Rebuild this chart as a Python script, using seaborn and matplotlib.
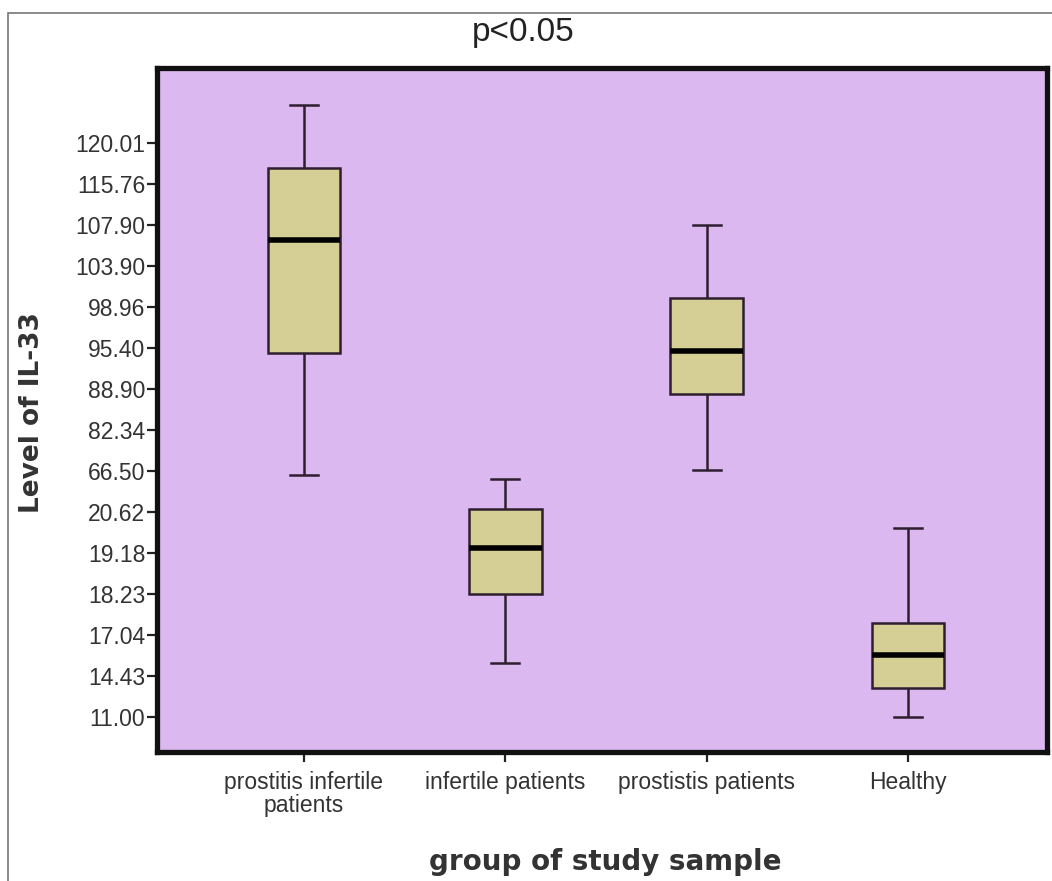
import numpy as np
import pandas as pd
import matplotlib
matplotlib.use("Agg")
import matplotlib.pyplot as plt
from matplotlib.patches import Rectangle
from matplotlib.ticker import NullLocator, FixedLocator, FixedFormatter
import seaborn as sns

# Groups on the x axis
GROUPS = [
    "prostitis infertile\npatients",
    "infertile patients",
    "prostistis patients",
    "Healthy",
]

# Box statistics (IL-33 level)
WHISKER_LOW = [62.37, 15.27, 66.98, 11.00]
Q1 = [94.69, 18.24, 88.18, 13.44]
MEDIAN = [106.42, 19.37, 95.01, 15.76]
Q3 = [117.42, 24.29, 100.00, 17.40]
WHISKER_HIGH = [123.96, 57.78, 107.90, 20.07]

# The original axis is ordinal: these labels sit at evenly spaced positions
Y_TICKS = [11.00, 14.43, 17.04, 18.23, 19.18, 20.62, 66.50, 82.34,
           88.90, 95.40, 98.96, 103.90, 107.90, 115.76, 120.01]

BG_COLOR = "#dcb8f1"
BOX_COLOR = "#d5cf96"
LINE_COLOR = "#2e1e30"
TEXT_COLOR = "#333333"

# Piecewise-linear scale through the tick values, extended at both ends
tick_arr = np.array(Y_TICKS)
pos_arr = np.arange(len(tick_arr), dtype=float)
lo_slope = tick_arr[1] - tick_arr[0]
hi_slope = tick_arr[-1] - tick_arr[-2]
scale_vals = np.concatenate([[tick_arr[0] - 50 * lo_slope], tick_arr,
                             [tick_arr[-1] + 50 * hi_slope]])
scale_pos = np.concatenate([[-50.0], pos_arr, [pos_arr[-1] + 50]])


def forward(v):
    return np.interp(v, scale_vals, scale_pos)


def inverse(p):
    return np.interp(p, scale_pos, scale_vals)


rows = []
for i, g in enumerate(GROUPS):
    for v in (WHISKER_LOW[i], Q1[i], MEDIAN[i], Q3[i], WHISKER_HIGH[i]):
        rows.append({"group": g, "level": v})
df = pd.DataFrame(rows)

plt.rcParams["font.family"] = ["Liberation Sans", "DejaVu Sans"]

fig = plt.figure(figsize=(10.52, 8.81), dpi=100)
ax = fig.add_axes([157 / 1052, 1 - 752 / 881, (1047 - 157) / 1052, (752 - 68) / 881])
ax.set_yscale("function", functions=(forward, inverse))
ax.set_facecolor(BG_COLOR)

sns.boxplot(
    data=df,
    x="group",
    y="level",
    order=GROUPS,
    whis=(0, 100),
    width=0.36,
    color=BOX_COLOR,
    linecolor=LINE_COLOR,
    linewidth=1.8,
    saturation=1,
    capwidths=0.14,
    medianprops={"color": "black", "linewidth": 4},
    ax=ax,
)

ax.set_ylim(inverse(-0.85), inverse(15.83))
ax.set_xlim(-0.73, 3.69)
ax.yaxis.set_major_locator(FixedLocator(Y_TICKS))
ax.yaxis.set_major_formatter(FixedFormatter([f"{t:.2f}" for t in Y_TICKS]))
ax.yaxis.set_minor_locator(NullLocator())

for side in ["left", "right", "top", "bottom"]:
    ax.spines[side].set_linewidth(3.8)
    ax.spines[side].set_color("#111111")

ax.tick_params(axis="both", direction="out", length=7.5, width=1.6,
               color="#222222", labelsize=16.5, labelcolor=TEXT_COLOR)
ax.tick_params(axis="y", pad=1)
ax.tick_params(axis="x", pad=6)
for lbl in ax.get_xticklabels():
    lbl.set_linespacing(1.0)

ax.set_xlabel("")
ax.set_ylabel("")

# axis titles and heading placed like the original export
fig.text(605 / 1052, 1 - 862 / 881, "group of study sample", ha="center", va="center",
         fontsize=20, fontweight="bold", family="DejaVu Sans", color=TEXT_COLOR)
fig.text(32 / 1052, 1 - 413 / 881, "Level of IL-33", ha="center", va="center",
         rotation=90, fontsize=19, fontweight="bold", family="DejaVu Sans",
         color=TEXT_COLOR)
fig.text(523 / 1052, 1 - 33 / 881, "p<0.05", ha="center", va="center",
         fontsize=24, color="#222222")

# thin frame around the figure like the original export
fig.patches.append(Rectangle((8 / 1052, -0.05), 1.2, 1 - 13 / 881 + 0.05,
                             transform=fig.transFigure, fill=False,
                             edgecolor="#777777", linewidth=1.2))

fig.savefig("out.png", dpi=100, facecolor="white")
